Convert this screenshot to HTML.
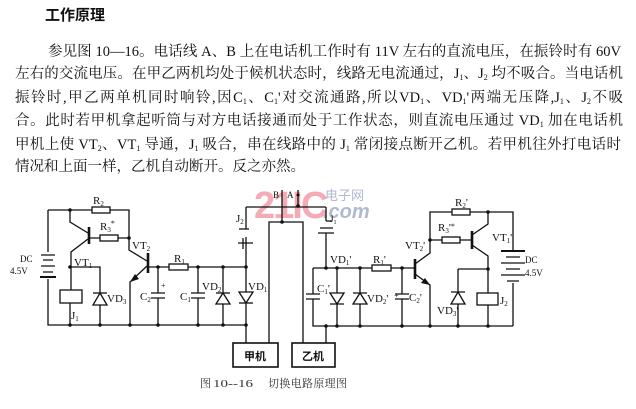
<!DOCTYPE html>
<html><head><meta charset="utf-8">
<style>
html,body{margin:0;padding:0;background:#fff;}
body{width:636px;height:409px;position:relative;overflow:hidden;font-family:"Liberation Serif","Noto Serif CJK SC",serif;color:#111;}
.t{position:absolute;left:45px;top:8px;font-family:"Liberation Sans","Noto Sans CJK SC",sans-serif;font-weight:bold;font-size:15px;line-height:16px;letter-spacing:0px;}
.l{position:absolute;font-size:14.5px;line-height:16px;height:16px;white-space:nowrap;text-align:justify;text-align-last:justify;}
.l sub{font-size:8px;vertical-align:-2px;line-height:0;}
svg{position:absolute;left:0;top:0;}
</style></head><body>
<div class="t">工作原理</div>
<div class="l" style="left:48px;top:44px;width:573px;">参见图 10—16。电话线 A、B 上在电话机工作时有 11V 左右的直流电压，在振铃时有 60V</div>
<div class="l" style="left:15px;top:66px;width:608px;">左右的交流电压。在甲乙两机均处于候机状态时，线路无电流通过，J<sub>1</sub>、J<sub>2</sub> 均不吸合。当电话机</div>
<div class="l" style="left:15px;top:90px;width:608px;">振铃时,甲乙两单机同时响铃,因C<sub>1</sub>、C<sub>1</sub>'对交流通路,所以VD<sub>1</sub>、VD<sub>1</sub>'两端无压降,J<sub>1</sub>、J<sub>2</sub>不吸</div>
<div class="l" style="left:15px;top:113px;width:608px;">合。此时若甲机拿起听筒与对方电话接通而处于工作状态，则直流电压通过 VD<sub>1</sub> 加在电话机</div>
<div class="l" style="left:15px;top:137px;width:606px;">甲机上使 VT<sub>2</sub>、VT<sub>1</sub> 导通，J<sub>1</sub> 吸合，串在线路中的 J<sub>1</sub> 常闭接点断开乙机。若甲机往外打电话时</div>
<div class="l" style="left:15px;top:159px;text-align:left;text-align-last:left;">情况和上面一样，乙机自动断开。反之亦然。</div>

<svg width="636" height="409" viewBox="0 0 636 409" xmlns="http://www.w3.org/2000/svg">
<!-- watermark -->
<g opacity="0.7">
<text x="254" y="218" font-family="Liberation Sans, sans-serif" font-weight="bold" font-size="38" fill="#f08898" letter-spacing="-2">21IC</text>
<text x="325" y="200" font-family="Liberation Sans, Noto Sans CJK SC, sans-serif" font-size="13" fill="#8f9cc0">电子网</text>
<text x="323" y="218" font-family="Liberation Sans, sans-serif" font-style="italic" font-weight="bold" font-size="20" fill="#8f9cc0">.com</text>
</g>
<g stroke="#111" stroke-width="1.3" fill="none">
<!-- LEFT SIDE -->
<path d="M48 210 H129 V250 L147 261"/>
<path d="M48 210 V252 M48 279 V325 H246"/>
<path d="M70 210 V222 L88 233"/>
<path d="M89 227 V244" stroke-width="2.6"/>
<path d="M88 239 L71 252 V290 M70 303 V325"/>
<path d="M89 238 H128"/>
<path d="M148 253 V273" stroke-width="2.6"/>
<path d="M147 266 L130 282 V325"/>
<path d="M148 267 H246"/>
<path d="M70 267 H100 V325"/>
<!-- C2 -->
<path d="M158 267 V293 M151 293 H165 M151 298 H165 M158 298 V325"/>
<!-- C1 -->
<path d="M198 267 V293 M191 293 H205 M191 298 H205 M198 298 V325"/>
<!-- VD2 line -->
<path d="M223 267 V325"/>
<path d="M216 293 H230"/>
<!-- VD1 line -->
<path d="M246 267 V343"/>
<path d="M239 303 H253"/>
<!-- VD3 -->
<path d="M93 293 H107"/>
<!-- J2 contact -->
<path d="M246 207 V229 M239 229 H249 M238 243 H253 M246 237 V267 M243 238 V249"/>
<!-- top wire -->
<path d="M246 207 H326"/>
<path d="M298 190 V207"/>
<path d="M282 190 V222"/>
<path d="M269 343 V222 H303 V343"/>
<!-- right to box -->
<path d="M326 326 V343"/>
<!-- J1' contact -->
<path d="M326 207 V221 M326 221 H332 M320 228 H333 M318 233 H334 M326 233 V268"/>
<!-- RIGHT SIDE -->
<path d="M313 268 H415"/>
<path d="M313 268 V294 M306 294 H320 M306 299 H320 M313 299 V326 H513"/>
<path d="M337 268 V326 M330 304 H344"/>
<path d="M360 268 V326 M353 293 H367"/>
<path d="M402 268 V294 M395 294 H409 M395 299 H409 M402 299 V326"/>
<path d="M415 259 V279" stroke-width="2.6"/>
<path d="M415 264 L430 253 V212 H513 V250"/>
<path d="M415 274 L430 285 V326"/>
<path d="M430 240 H472"/>
<path d="M472 231 V249" stroke-width="2.6"/>
<path d="M472 235 L488 224 V212"/>
<path d="M472 245 L488 256 V294 M488 305 V326"/>
<path d="M458 269 H488 M458 269 V326 M451 292 H465"/>
<path d="M513 283 V326"/>
<!-- batteries -->
<path d="M41 255 H55 M43 260 H53 M41 266 H55 M43 272 H53" />
<path d="M40 277 H56" stroke-width="2"/>
<path d="M501 251 H525" stroke-width="2"/>
<path d="M506 257 H520 M501 263 H525 M506 269 H520 M501 275 H525 M507 281 H519"/>
</g>
<!-- resistors and filled shapes -->
<g stroke="#111" stroke-width="1.3" fill="#fff">
<rect x="92" y="207" width="18" height="6"/>
<rect x="100" y="235" width="18" height="6"/>
<rect x="169" y="264" width="19" height="6"/>
<rect x="60" y="290" width="22" height="13"/>
<rect x="372" y="265" width="19" height="6"/>
<rect x="442" y="237" width="18" height="6"/>
<rect x="452" y="209" width="18" height="6"/>
<rect x="477" y="293" width="21" height="12"/>
<rect x="233" y="343" width="45" height="24" stroke-width="1.6"/>
<rect x="292" y="343" width="43" height="24" stroke-width="1.6"/>
</g>
<g stroke="#111" stroke-width="1.3" fill="#fff">
<!-- diodes -->
<path d="M100 293 L107 305 H93 Z"/>
<path d="M223 293 L230 304 H216 Z"/>
<path d="M246 303 L253 292 H239 Z"/>
<path d="M337 304 L344 293 H330 Z"/>
<path d="M360 293 L367 304 H353 Z"/>
<path d="M458 292 L465 304 H451 Z"/>
</g>
<g fill="#111">
<path d="M130 282 L135 274 L139 279 Z"/>
<path d="M430 285 L421 283 L425 278 Z"/>
<circle cx="70" cy="210" r="1.8"/><circle cx="129" cy="238" r="1.8"/><circle cx="70" cy="267" r="1.8"/>
<circle cx="158" cy="267" r="1.8"/><circle cx="198" cy="267" r="1.8"/><circle cx="223" cy="267" r="1.8"/><circle cx="246" cy="267" r="1.8"/>
<circle cx="70" cy="325" r="1.8"/><circle cx="100" cy="325" r="1.8"/><circle cx="130" cy="325" r="1.8"/><circle cx="158" cy="325" r="1.8"/><circle cx="198" cy="325" r="1.8"/><circle cx="223" cy="325" r="1.8"/><circle cx="246" cy="325" r="1.8"/>
<circle cx="298" cy="206" r="1.8"/><circle cx="298" cy="195" r="1.5"/><circle cx="282" cy="222" r="1.8"/>
<circle cx="326" cy="268" r="1.8"/><circle cx="337" cy="268" r="1.8"/><circle cx="360" cy="268" r="1.8"/><circle cx="402" cy="268" r="1.8"/>
<circle cx="326" cy="326" r="1.8"/><circle cx="337" cy="326" r="1.8"/><circle cx="360" cy="326" r="1.8"/><circle cx="402" cy="326" r="1.8"/><circle cx="430" cy="326" r="1.8"/><circle cx="458" cy="326" r="1.8"/><circle cx="488" cy="326" r="1.8"/>
<circle cx="430" cy="240" r="1.8"/><circle cx="488" cy="212" r="1.8"/><circle cx="488" cy="269" r="1.8"/>
</g>
<!-- labels -->
<g font-family="Liberation Serif, serif" font-size="11" fill="#111">
<text x="93" y="204">R<tspan font-size="7" dy="2">2</tspan></text>
<text x="100" y="230">R<tspan font-size="7" dy="2">3</tspan><tspan font-size="8" dy="-6">*</tspan></text>
<text x="132" y="249">VT<tspan font-size="7" dy="2">2</tspan></text>
<text x="74" y="266">VT<tspan font-size="7" dy="2">1</tspan></text>
<text x="107" y="302">VD<tspan font-size="7" dy="2">3</tspan></text>
<text x="71" y="319">J<tspan font-size="7" dy="2">1</tspan></text>
<text x="140" y="300">C<tspan font-size="7" dy="2">2</tspan></text>
<text x="161" y="288" font-size="8">+</text>
<text x="180" y="300">C<tspan font-size="7" dy="2">1</tspan></text>
<text x="174" y="262">R<tspan font-size="7" dy="2">1</tspan></text>
<text x="202" y="290">VD<tspan font-size="7" dy="2">2</tspan></text>
<text x="248" y="290">VD<tspan font-size="7" dy="2">1</tspan></text>
<text x="236" y="222">J<tspan font-size="7" dy="2">2</tspan></text>
<text x="20" y="262" font-size="9">DC</text>
<text x="10" y="274" font-size="9">4.5V</text>
<text x="273" y="198" font-size="9">B</text>
<text x="287" y="198" font-size="9">A</text>
<text x="330" y="222" font-size="9">J<tspan font-size="6" dy="2">1</tspan></text>
<text x="330" y="263">VD<tspan font-size="7" dy="2">1</tspan><tspan dy="-2">'</tspan></text>
<text x="317" y="292">C<tspan font-size="7" dy="2">1</tspan><tspan dy="-2">'</tspan></text>
<text x="373" y="263">R<tspan font-size="7" dy="2">1</tspan><tspan dy="-2">'</tspan></text>
<text x="367" y="302">VD<tspan font-size="7" dy="2">2</tspan><tspan dy="-2">'</tspan></text>
<text x="394" y="298" font-size="8">+</text>
<text x="409" y="301">C<tspan font-size="7" dy="2">2</tspan><tspan dy="-2">'</tspan></text>
<text x="405" y="249">VT<tspan font-size="7" dy="2">2</tspan><tspan dy="-2">'</tspan></text>
<text x="438" y="231">R<tspan font-size="7" dy="2">3</tspan><tspan dy="-2">'</tspan><tspan font-size="8" dy="-2">*</tspan></text>
<text x="455" y="206">R<tspan font-size="7" dy="2">2</tspan><tspan dy="-2">'</tspan></text>
<text x="492" y="241">VT<tspan font-size="7" dy="2">1</tspan><tspan dy="-2">'</tspan></text>
<text x="437" y="314">VD<tspan font-size="7" dy="2">3</tspan><tspan dy="-2">'</tspan></text>
<text x="500" y="304">J<tspan font-size="7" dy="2">2</tspan></text>
<text x="525" y="263" font-size="9">DC</text>
<text x="525" y="276" font-size="9">4.5V</text>
</g>
<g font-family="Liberation Sans, Noto Sans CJK SC, sans-serif" font-size="11" font-weight="bold" fill="#111">
<text x="244" y="360">甲机</text>
<text x="302" y="360">乙机</text>
</g>
<g font-family="Liberation Serif, Noto Serif CJK SC, serif" font-size="11" fill="#333">
<text x="200" y="387">图</text>
<text x="213" y="387" textLength="40" lengthAdjust="spacingAndGlyphs">10--16</text>
<text x="268" y="387" textLength="79" lengthAdjust="spacing">切换电路原理图</text>
</g>
</svg>
</body></html>
